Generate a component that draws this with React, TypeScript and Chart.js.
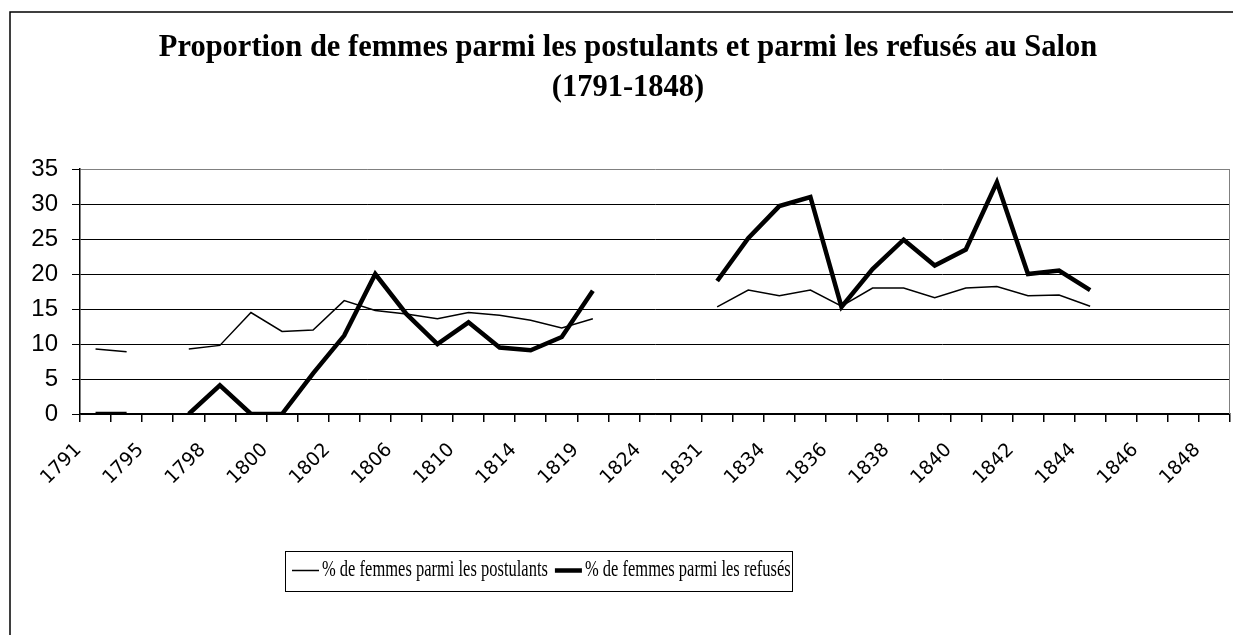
import React, { useEffect, useRef } from 'react';
import { Chart, registerables } from 'chart.js';

Chart.register(...registerables);

// Salon years (categories); only every other one is labelled on the axis
const years = [
  '1791', '1793', '1795', '1796', '1798', '1799', '1800', '1801', '1802', '1804',
  '1806', '1808', '1810', '1812', '1814', '1817', '1819', '1822', '1824', '1827',
  '1831', '1833', '1834', '1835', '1836', '1837', '1838', '1839', '1840', '1841',
  '1842', '1843', '1844', '1845', '1846', '1847', '1848',
];

// % de femmes parmi les postulants
const postulants: (number | null)[] = [
  9.3, 8.9, null, 9.3, 9.8, 14.5, 11.8, 12.0, 16.2, 14.8,
  14.3, 13.6, 14.5, 14.1, 13.4, 12.3, 13.6, null, null, null,
  15.3, 17.7, 16.9, 17.7, 15.4, 18.0, 18.0, 16.6, 18.0, 18.2,
  16.9, 17.0, 15.4, null, null, null, null,
];

// % de femmes parmi les refusés
const refuses: (number | null)[] = [
  0, 0, null, 0, 4.1, 0, 0, 5.8, 11.2, 20.0,
  14.3, 10.0, 13.1, 9.5, 9.1, 11.0, 17.6, null, null, null,
  19.0, 25.1, 29.7, 31.0, 15.3, 20.7, 24.9, 21.2, 23.5, 33.1,
  20.0, 20.5, 17.7, null, null, null, null,
];

const seriesNames = ['% de femmes parmi les postulants', '% de femmes parmi les refusés'];
const titleLines = [
  'Proportion de femmes parmi les postulants et parmi les refusés au Salon',
  '(1791-1848)',
];
const yMin = 0;
const yMax = 35;
const yStep = 5;

const framePlugin = {
  id: 'frameAndLegend',
  beforeDraw(chart: any) {
    const ctx = chart.ctx;
    ctx.save();
    ctx.fillStyle = '#ffffff';
    ctx.fillRect(0, 0, chart.width, chart.height);
    ctx.strokeStyle = '#000000';
    ctx.lineWidth = 1.5;
    ctx.strokeRect(10, 12, chart.width + 40, chart.height + 40);
    ctx.restore();
  },
  afterDraw(chart: any) {
    const { ctx, chartArea } = chart;
    ctx.save();
    // plot area right border (grey)
    ctx.strokeStyle = '#808080';
    ctx.lineWidth = 1;
    ctx.beginPath();
    ctx.moveTo(chartArea.right - 0.5, chartArea.top);
    ctx.lineTo(chartArea.right - 0.5, chartArea.bottom);
    ctx.stroke();

    // legend box
    const bx = 285;
    const by = 551;
    const bw = 507;
    const bh = 40;
    ctx.strokeStyle = '#000000';
    ctx.lineWidth = 1;
    ctx.strokeRect(bx + 0.5, by + 0.5, bw, bh);
    ctx.font = '16.5px "Liberation Serif"';
    ctx.textBaseline = 'alphabetic';
    ctx.textAlign = 'left';
    ctx.fillStyle = '#000000';
    let x = bx + 7;
    const lineY = by + 19.5;
    const baseY = by + 24.5;
    chart.data.datasets.forEach((ds: any) => {
      ctx.lineWidth = ds.borderWidth;
      ctx.strokeStyle = ds.borderColor;
      ctx.beginPath();
      ctx.moveTo(x, lineY);
      ctx.lineTo(x + 27, lineY);
      ctx.stroke();
      x += 30;
      ctx.save();
      ctx.translate(x, baseY);
      ctx.scale(1, 1.45);
      ctx.fillText(ds.label, 0, 0);
      ctx.restore();
      x += ctx.measureText(ds.label).width + 7;
    });
    ctx.restore();
  },
};

export default function App() {
  const canvasRef = useRef<HTMLCanvasElement | null>(null);

  useEffect(() => {
    const canvas = canvasRef.current;
    if (!canvas) return;
    const chart = new Chart(canvas, {
      type: 'line',
      data: {
        labels: years,
        datasets: [
          {
            label: seriesNames[0],
            data: postulants,
            borderColor: '#000000',
            borderWidth: 1.5,
            pointRadius: 0,
            tension: 0,
            spanGaps: false,
          },
          {
            label: seriesNames[1],
            data: refuses,
            borderColor: '#000000',
            borderWidth: 4.5,
            pointRadius: 0,
            tension: 0,
            spanGaps: false,
            borderJoinStyle: 'miter',
          },
        ],
      },
      options: {
        responsive: false,
        animation: false,
        devicePixelRatio: 1,
        layout: { padding: { top: 12, left: 26, right: 3, bottom: 0 } },
        plugins: {
          legend: { display: false },
          tooltip: { enabled: false },
          title: {
            display: true,
            text: titleLines,
            color: '#000000',
            font: { family: '"Liberation Serif"', size: 30.5, weight: 'bold', lineHeight: 40 / 30.5 },
            padding: { top: 16, bottom: 61 },
          },
        },
        scales: {
          x: {
            type: 'category',
            offset: true,
            grid: {
              display: true,
              offset: true,
              drawOnChartArea: false,
              drawTicks: true,
              tickLength: 8,
              color: '#000000',
              lineWidth: 1.5,
            },
            border: { display: true, color: '#000000', width: 1.5 },
            ticks: {
              autoSkip: false,
              maxRotation: 45,
              minRotation: 45,
              padding: 17,
              labelOffset: -17,
              color: '#000000',
              font: { family: '"DejaVu Sans"', size: 19 },
              callback: (_v: any, i: number) => (i % 2 === 0 ? years[i] : ''),
            },
            afterFit: (scale: any) => {
              scale.height = 221;
              scale.paddingLeft = 0;
              scale.paddingRight = 0;
            },
          },
          y: {
            min: yMin,
            max: yMax,
            grid: {
              color: (c: any) => (c.tick && c.tick.value === yMax ? '#808080' : '#000000'),
              tickColor: '#000000',
              lineWidth: 1,
              tickLength: 8,
            },
            border: { display: true, color: '#000000', width: 1.5 },
            ticks: {
              stepSize: yStep,
              padding: 14,
              color: '#000000',
              font: { family: '"Liberation Sans"', size: 24 },
            },
            afterFit: (scale: any) => {
              scale.width = 54;
              scale.paddingTop = 0;
              scale.paddingBottom = 0;
            },
          },
        },
      },
      plugins: [framePlugin],
    });
    return () => chart.destroy();
  }, []);

  return (
    <div style={{ position: 'absolute', left: 0, top: 0, width: 1233, height: 635, background: '#fff' }}>
      <canvas ref={canvasRef} width={1233} height={635} style={{ display: 'block' }} />
    </div>
  );
}
